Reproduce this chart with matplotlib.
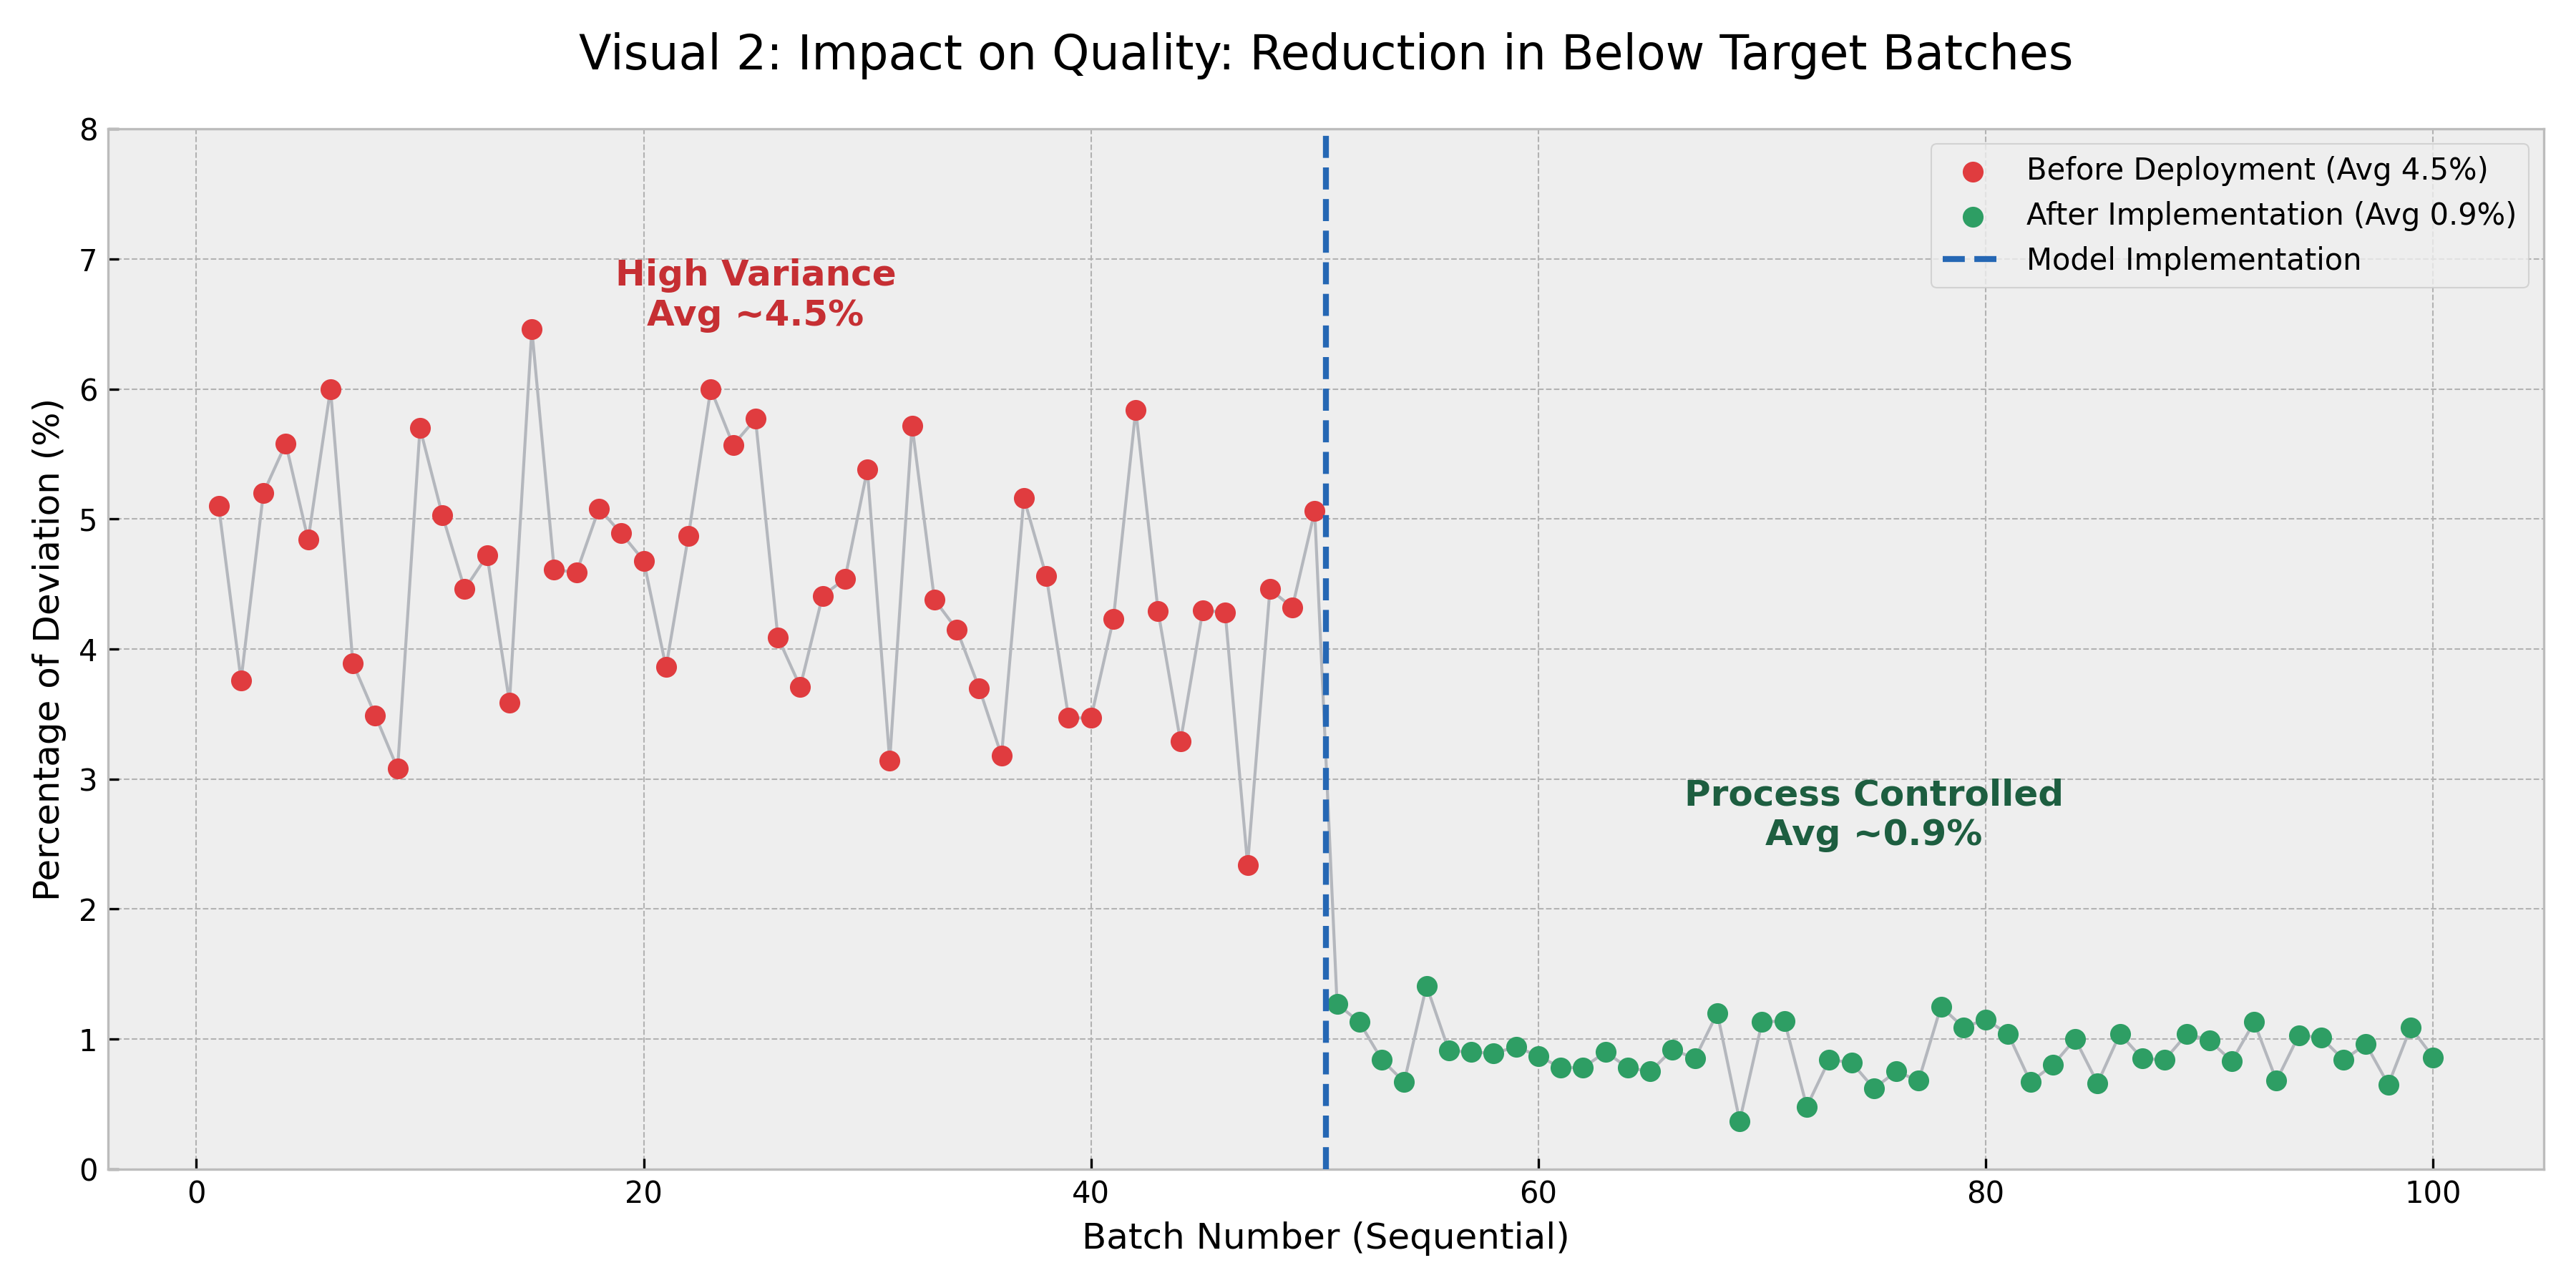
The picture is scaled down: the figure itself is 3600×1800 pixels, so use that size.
import matplotlib
matplotlib.use("Agg")
import matplotlib.pyplot as plt
import numpy as np

plt.style.use("bmh")
plt.rcParams['font.family'] = ['DejaVu Sans']

batches_before = list(range(1, 51))
before_vals = [5.10, 3.76, 5.20, 5.58, 4.84, 6.00, 3.89, 3.49, 3.08, 5.70,
               5.03, 4.46, 4.72, 3.59, 6.46, 4.61, 4.59, 5.08, 4.89, 4.68,
               3.86, 4.87, 6.00, 5.57, 5.77, 4.09, 3.71, 4.41, 4.54, 5.38,
               3.14, 5.72, 4.38, 4.15, 3.70, 3.18, 5.16, 4.56, 3.47, 3.47,
               4.23, 5.84, 4.29, 3.29, 4.30, 4.28, 2.34, 4.46, 4.32, 5.06]
batches_after = list(range(51, 101))
after_vals = [1.27, 1.13, 0.84, 0.67, 1.41, 0.91, 0.90, 0.89, 0.94, 0.87,
              0.78, 0.78, 0.90, 0.78, 0.75, 0.92, 0.85, 1.20, 0.37, 1.13,
              1.14, 0.48, 0.84, 0.82, 0.62, 0.75, 0.68, 1.25, 1.09, 1.15,
              1.04, 0.67, 0.80, 1.00, 0.66, 1.04, 0.85, 0.84, 1.04, 0.99,
              0.83, 1.13, 0.68, 1.03, 1.01, 0.84, 0.96, 0.65, 1.09, 0.86]
implementation_x = 50.5

fig, ax = plt.subplots(figsize=(12, 6), dpi=300)
fig.patch.set_facecolor("white")

all_x = batches_before + batches_after
all_y = before_vals + after_vals
ax.plot(all_x, all_y, color="#b4b7bd", linewidth=1.0, zorder=2)
ax.scatter(batches_before, before_vals, color="#e03c3f", s=42, zorder=3,
           label="Before Deployment (Avg 4.5%)")
ax.scatter(batches_after, after_vals, color="#2e9e64", s=42, zorder=3,
           label="After Implementation (Avg 0.9%)")
ax.axvline(implementation_x, color="#2567b4", linestyle="--", linewidth=2,
           label="Model Implementation", zorder=4)

ax.text(25, 6.72, "High Variance\nAvg ~4.5%", color="#c62f33", fontsize=12,
        fontweight="bold", ha="center", va="center")
ax.text(75, 2.72, "Process Controlled\nAvg ~0.9%", color="#1d5e40", fontsize=12,
        fontweight="bold", ha="center", va="center")

ax.set_ylim(0, 8)
ax.set_title("Visual 2: Impact on Quality: Reduction in Below Target Batches",
             fontsize=16, pad=20)
ax.set_xlabel("Batch Number (Sequential)", fontsize=12)
ax.set_ylabel("Percentage of Deviation (%)", fontsize=12)
ax.legend(loc="upper right", fontsize=10)

fig.tight_layout()
fig.savefig("out.png", dpi=300)
